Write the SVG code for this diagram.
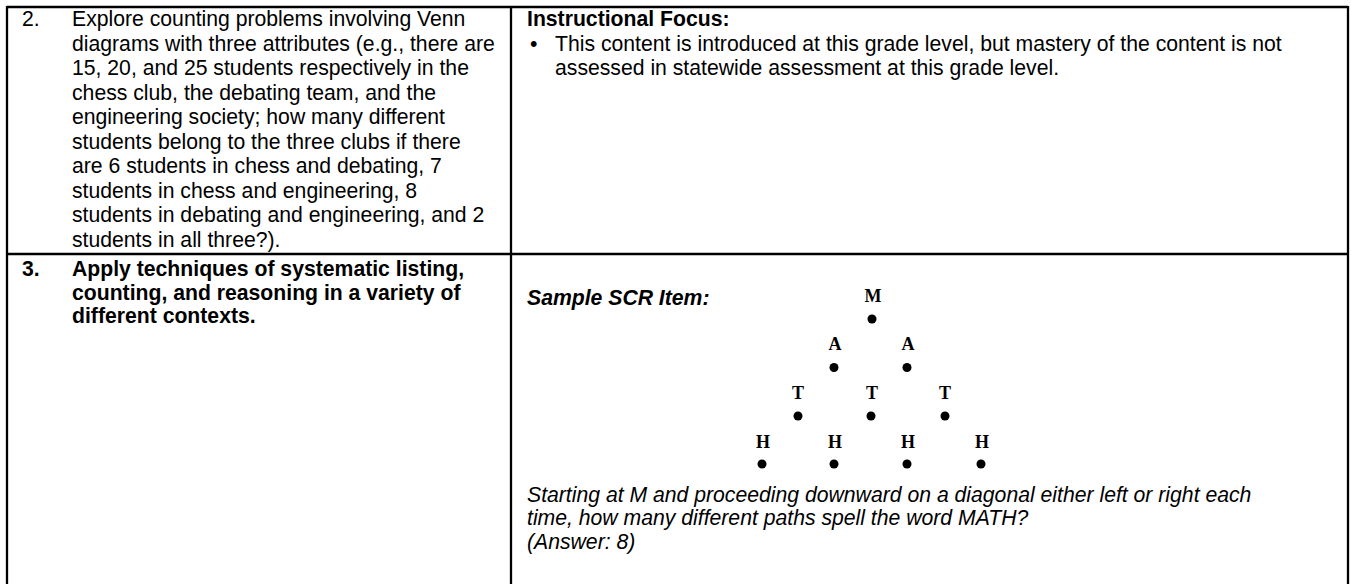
<svg xmlns="http://www.w3.org/2000/svg" width="1351" height="584" viewBox="0 0 1351 584">
<style>
.t{font-family:"Liberation Sans",Arial,sans-serif;font-size:21.2px;fill:#000}
.b{font-weight:bold}
.i{font-style:italic}
.s{font-family:"Liberation Serif","Times New Roman",serif;font-size:18px;font-weight:bold;fill:#000;text-anchor:middle}
.g{stroke:#000;stroke-width:2.3;fill:none}
</style>
<rect width="1351" height="584" fill="#fff"/>
<g id="grid">
<line class="g" x1="7" y1="7" x2="1348" y2="7"/>
<line class="g" x1="7" y1="6" x2="7" y2="584"/>
<line class="g" x1="1348" y1="6" x2="1348" y2="584"/>
<line class="g" x1="511" y1="7" x2="511" y2="584"/>
<line class="g" x1="7" y1="254" x2="1348" y2="254"/>
</g>
<g id="row2-left" class="t">
<text x="22" y="26">2.</text>
<text x="72" y="26">Explore counting problems involving Venn</text>
<text x="72" y="50.5">diagrams with three attributes (e.g., there are</text>
<text x="72" y="75">15, 20, and 25 students respectively in the</text>
<text x="72" y="99.5">chess club, the debating team, and the</text>
<text x="72" y="124">engineering society; how many different</text>
<text x="72" y="148.5">students belong to the three clubs if there</text>
<text x="72" y="173">are 6 students in chess and debating, 7</text>
<text x="72" y="197.5">students in chess and engineering, 8</text>
<text x="72" y="222">students in debating and engineering, and 2</text>
<text x="72" y="246.5">students in all three?).</text>
</g>
<g id="row2-right" class="t">
<text x="527" y="26" class="b">Instructional Focus:</text>
<text x="530" y="50.5">•</text>
<text x="555" y="50.5">This content is introduced at this grade level, but mastery of the content is not</text>
<text x="555" y="75">assessed in statewide assessment at this grade level.</text>
</g>
<g id="row3-left" class="t b">
<text x="22" y="276">3.</text>
<text x="72" y="276">Apply techniques of systematic listing,</text>
<text x="72" y="299.7">counting, and reasoning in a variety of</text>
<text x="72" y="323.4">different contexts.</text>
</g>
<g id="row3-right" class="t">
<text x="527" y="305" class="b i">Sample SCR Item:</text>
<text x="527" y="502" class="i">Starting at M and proceeding downward on a diagonal either left or right each</text>
<text x="527" y="525.3" class="i">time, how many different paths spell the word MATH?</text>
<text x="527" y="548.6" class="i">(Answer: 8)</text>
</g>
<g id="pyramid">
<text class="s" x="873" y="302">M</text>
<circle cx="872" cy="319" r="4.5"/>
<text class="s" x="835" y="350">A</text>
<text class="s" x="908" y="350">A</text>
<circle cx="834" cy="367.5" r="4.5"/>
<circle cx="907" cy="367.5" r="4.5"/>
<text class="s" x="798" y="399">T</text>
<text class="s" x="872" y="399">T</text>
<text class="s" x="945" y="399">T</text>
<circle cx="798" cy="416" r="4.5"/>
<circle cx="871" cy="416" r="4.5"/>
<circle cx="945" cy="416" r="4.5"/>
<text class="s" x="763" y="447.5">H</text>
<text class="s" x="835" y="447.5">H</text>
<text class="s" x="908" y="447.5">H</text>
<text class="s" x="982" y="447.5">H</text>
<circle cx="762" cy="464" r="4.5"/>
<circle cx="834" cy="464" r="4.5"/>
<circle cx="907" cy="464" r="4.5"/>
<circle cx="981" cy="464" r="4.5"/>
</g>
</svg>
